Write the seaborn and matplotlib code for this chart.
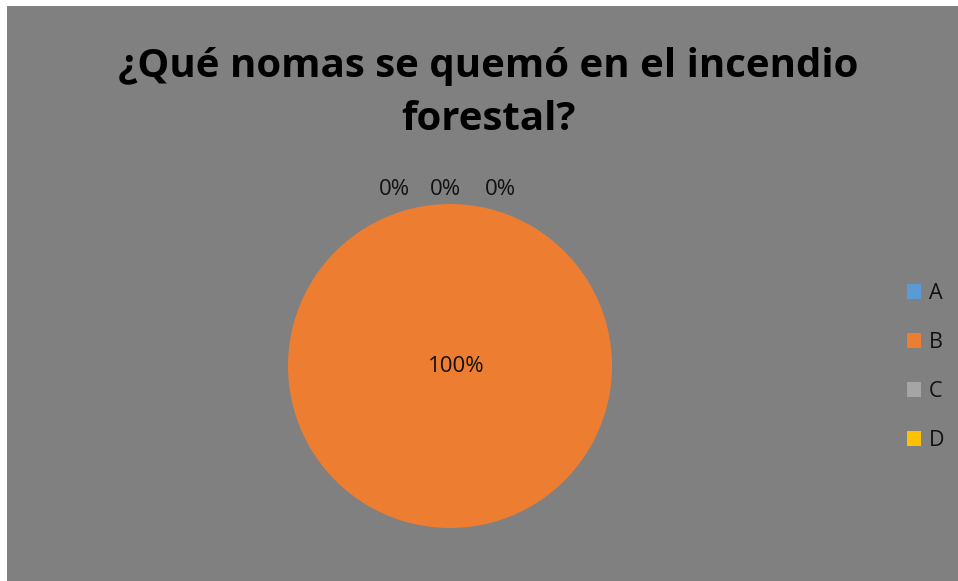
import matplotlib
matplotlib.use("Agg")
import matplotlib.pyplot as plt
import seaborn as sns
from matplotlib.patches import Rectangle

categories = ["A", "B", "C", "D"]
values = [0, 100, 0, 0]
colors = ["#5B9BD5", "#ED7D31", "#A5A5A5", "#FFC000"]
title = "¿Qué nomas se quemó en el incendio\nforestal?"

sns.set_theme(style="white")
plt.rcParams["font.family"] = ["Open Sans", "DejaVu Sans"]

BG = "#808080"
fig = plt.figure(figsize=(9.58, 5.81), dpi=100)
fig.patch.set_facecolor("white")
bg = Rectangle((7 / 958, 0), 1, 1 - 6 / 581, transform=fig.transFigure,
               facecolor=BG, edgecolor="none", zorder=-10)
fig.patches.append(bg)

ax = fig.add_axes([288 / 958, 53 / 581, 324 / 958, 324 / 581])
ax.set_zorder(1)
ax.set_facecolor("none")
wedges, texts, autotexts = ax.pie(values, colors=colors, startangle=90, counterclock=False,
                                  autopct="%1.0f%%", pctdistance=0.0,
                                  wedgeprops=dict(linewidth=0),
                                  textprops=dict(fontsize=16, color="#111111"))
ax.set_xlim(-1, 1)
ax.set_ylim(-1, 1)
ax.set_aspect("auto")
ax.axis("off")

# zero-valued slices: labels stacked above the pie top, spread horizontally
zero_offsets = [-0.34, -0.03, 0.31]
k = 0
for v, t in zip(values, autotexts):
    if v == 0:
        t.set_position((zero_offsets[k], 1.09))
        t.set_ha("center")
        t.set_va("center")
        k += 1
    else:
        t.set_position((0.04, 0.0))

fig.text(488 / 958, 1 - 93 / 581, title, ha="center", va="center", fontsize=29,
         fontweight="bold", color="black", linespacing=1.47, zorder=2)

handles = [Rectangle((0, 0), 1, 1, facecolor=c, edgecolor="none") for c in colors]
leg = fig.legend(handles, categories, loc="center left", bbox_to_anchor=(888 / 958, 1 - 367 / 581),
                 frameon=False, fontsize=15.5, handlelength=0.65, handleheight=0.65,
                 handletextpad=0.35, labelspacing=1.3, labelcolor="#111111")

fig.savefig("out.png", dpi=100, facecolor=fig.get_facecolor())
